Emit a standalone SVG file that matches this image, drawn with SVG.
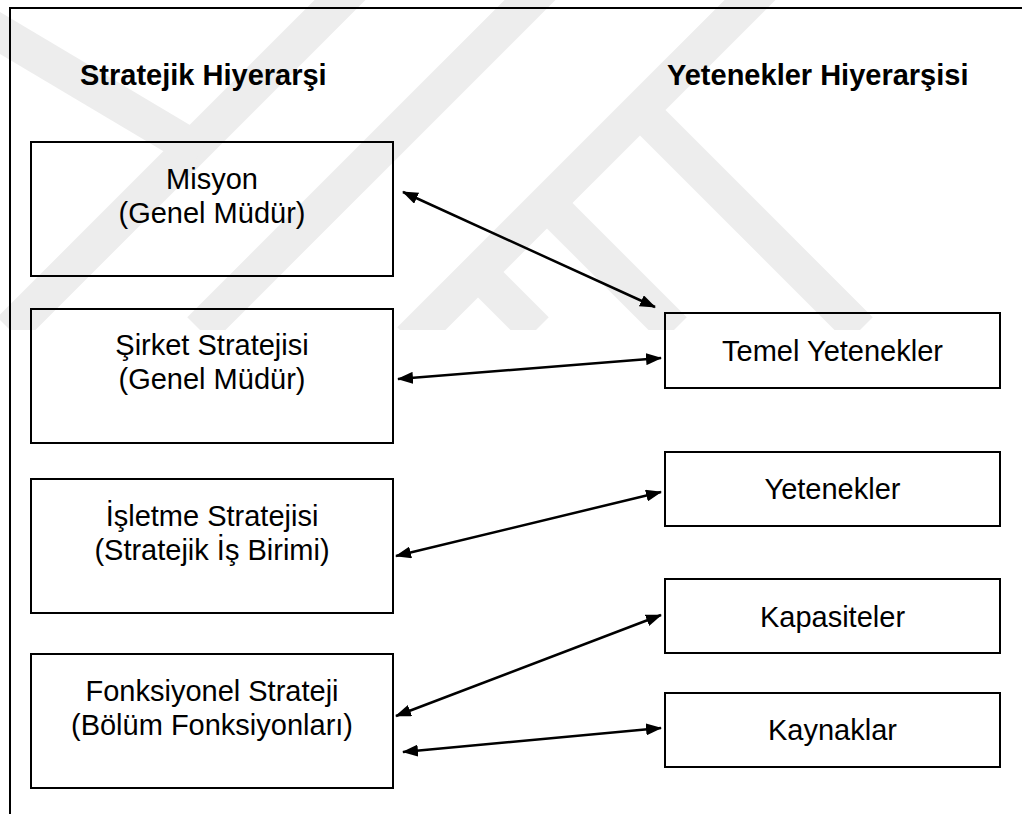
<svg xmlns="http://www.w3.org/2000/svg" width="1022" height="814" viewBox="0 0 1022 814">
  <style>
    .box { fill: none; stroke: #000; stroke-width: 2; }
    .frame { fill: none; stroke: #000; stroke-width: 2; }
    .head { font-family: "Liberation Sans", Arial, sans-serif; font-size: 29px; font-weight: bold; fill: #000; }
    .lbl { font-family: "Liberation Sans", Arial, sans-serif; font-size: 29px; fill: #000; text-anchor: middle; }
    .link { stroke: #000; stroke-width: 2.5; fill: none; marker-start: url(#head); marker-end: url(#head); }
    .band { stroke: #ededed; stroke-width: 36; fill: none; }
  </style>
  <defs>
    <marker id="head" viewBox="0 0 16 12" refX="15" refY="6" markerWidth="16" markerHeight="12" markerUnits="userSpaceOnUse" orient="auto-start-reverse">
      <path d="M0,0 L16,6 L0,12 Z" fill="#000"/>
    </marker>
    <clipPath id="wm-clip">
      <rect x="0" y="0" width="1022" height="330"/>
    </clipPath>
  </defs>
  <rect width="1022" height="814" fill="#fff"/>

  <!-- faint background emblem -->
  <g id="watermark" clip-path="url(#wm-clip)">
    <line class="band" x1="790" y1="-40" x2="410" y2="340"/>
    <line class="band" x1="640" y1="110" x2="860" y2="330"/>
    <line class="band" x1="547" y1="203" x2="674" y2="330"/>
    <line class="band" x1="478" y1="272" x2="536" y2="330"/>
    <line class="band" x1="570" y1="-40" x2="200" y2="330"/>
    <line class="band" x1="370" y1="-30" x2="10" y2="330"/>
    <line class="band" x1="-10" y1="27" x2="200" y2="152"/>
  </g>

  <!-- outer frame: top and left edges -->
  <path class="frame" d="M10,814 V8 H1022"/>

  <!-- column headings -->
  <text class="head" x="80" y="85">Stratejik Hiyerarşi</text>
  <text class="head" x="667" y="85">Yetenekler Hiyerarşisi</text>

  <!-- strategic hierarchy -->
  <g id="misyon">
    <rect class="box" x="31" y="142" width="362" height="134"/>
    <text class="lbl" x="212" y="189">Misyon</text>
    <text class="lbl" x="212" y="223">(Genel Müdür)</text>
  </g>
  <g id="sirket-stratejisi">
    <rect class="box" x="31" y="309" width="362" height="134"/>
    <text class="lbl" x="212" y="355">Şirket Stratejisi</text>
    <text class="lbl" x="212" y="389">(Genel Müdür)</text>
  </g>
  <g id="isletme-stratejisi">
    <rect class="box" x="31" y="479" width="362" height="134"/>
    <text class="lbl" x="212" y="526">İşletme Stratejisi</text>
    <text class="lbl" x="212" y="560">(Stratejik İş Birimi)</text>
  </g>
  <g id="fonksiyonel-strateji">
    <rect class="box" x="31" y="654" width="362" height="134"/>
    <text class="lbl" x="212" y="701">Fonksiyonel Strateji</text>
    <text class="lbl" x="212" y="735">(Bölüm Fonksiyonları)</text>
  </g>

  <!-- capability hierarchy -->
  <g id="temel-yetenekler">
    <rect class="box" x="665" y="313" width="335" height="75"/>
    <text class="lbl" x="832.5" y="361">Temel Yetenekler</text>
  </g>
  <g id="yetenekler">
    <rect class="box" x="665" y="452" width="335" height="74"/>
    <text class="lbl" x="832.5" y="499">Yetenekler</text>
  </g>
  <g id="kapasiteler">
    <rect class="box" x="665" y="579" width="335" height="74"/>
    <text class="lbl" x="832.5" y="627">Kapasiteler</text>
  </g>
  <g id="kaynaklar">
    <rect class="box" x="665" y="693" width="335" height="74"/>
    <text class="lbl" x="832.5" y="740">Kaynaklar</text>
  </g>

  <!-- two-way links -->
  <g id="connectors">
    <line class="link" x1="403" y1="192" x2="655" y2="307"/>
    <line class="link" x1="398" y1="379" x2="661" y2="358"/>
    <line class="link" x1="396" y1="556" x2="661" y2="492"/>
    <line class="link" x1="396" y1="716" x2="661" y2="615"/>
    <line class="link" x1="403" y1="752" x2="661" y2="728"/>
  </g>
</svg>
